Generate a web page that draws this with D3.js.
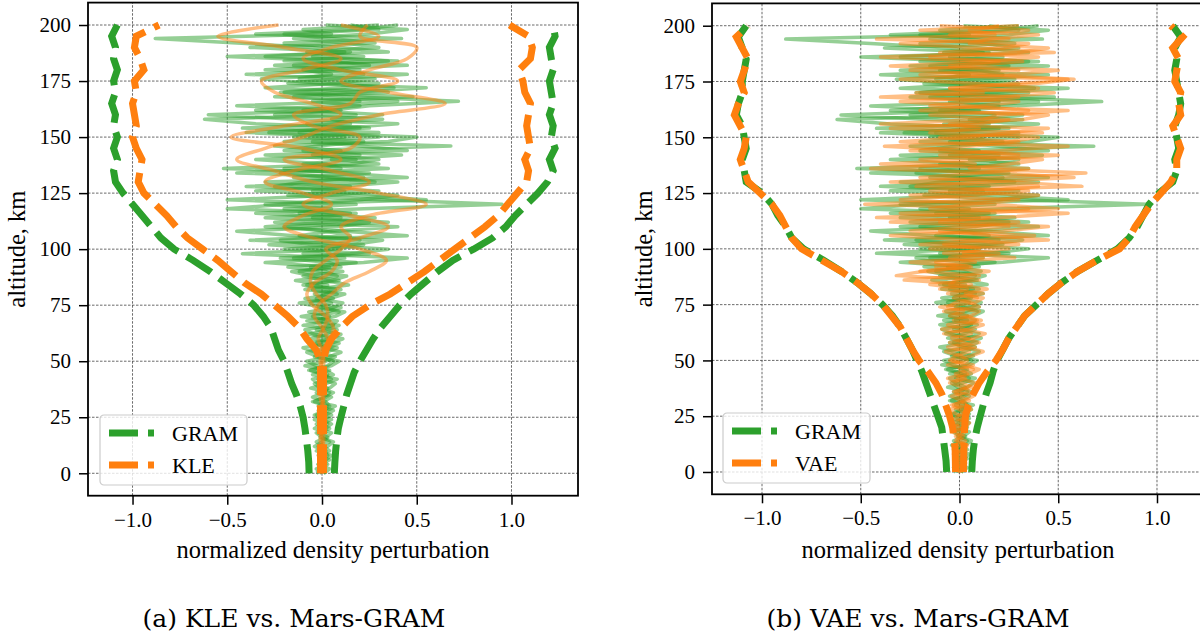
<!DOCTYPE html>
<html>
<head>
<meta charset="utf-8">
<script src="https://cdn.jsdelivr.net/npm/d3@7"></script>
<style>
  body { margin: 0; background: #fff; }
  svg { display: block; font-family: "Liberation Serif", "Times New Roman", serif; }
</style>
</head>
<body>
<div id="chart"></div>
<script>
// altitude grids (km)
var altFine = d3.range(0, 201, 2);
var altCoarse = d3.range(0, 201, 5);

var xTicks = [-1.0, -0.5, 0.0, 0.5, 1.0];
var yTicks = [0, 25, 50, 75, 100, 125, 150, 175, 200];

// Mars-GRAM sample profiles (every 2 km)
var gramSample1 = [0.02,-0.01,0.03,0.00,-0.02,0.04,0.01,-0.03,0.02,0.05,
  -0.01,0.03,-0.04,0.02,0.06,-0.02,0.01,0.05,-0.03,0.04,
  0.07,-0.02,0.03,-0.06,0.05,0.09,-0.04,0.02,0.08,-0.05,
  0.04,0.10,-0.03,0.06,-0.08,0.07,0.12,-0.02,0.05,-0.09,
  0.08,-0.05,0.14,0.02,-0.10,0.11,-0.06,0.18,-0.15,0.25,
  -0.20,0.15,0.32,-0.12,0.05,0.40,-0.25,0.10,-0.35,0.22,
  0.95,0.30,-0.18,0.12,-0.40,0.28,0.05,-0.22,0.35,-0.10,
  0.18,-0.30,0.45,0.20,-0.05,0.30,-0.28,0.10,0.40,-0.15,
  -0.60,0.05,0.25,0.72,0.15,-0.20,0.38,0.00,-0.32,0.22,
  0.10,-0.25,0.35,-0.05,0.15,-0.38,0.28,0.05,-0.20,0.30,
  0.15];
var gramSample2 = [-0.03,0.01,-0.02,0.04,-0.01,0.02,-0.04,0.00,0.03,-0.02,
  0.04,-0.03,0.01,0.05,-0.02,0.03,-0.05,0.02,0.06,-0.01,
  -0.04,0.05,0.01,-0.07,0.03,0.06,-0.02,-0.08,0.04,0.09,
  -0.06,0.02,0.08,-0.10,0.04,-0.05,0.09,0.01,-0.12,0.06,
  -0.04,0.10,-0.08,0.05,0.13,-0.12,0.04,-0.30,0.12,-0.42,
  0.10,-0.28,0.20,-0.15,-0.45,0.08,0.25,-0.30,0.15,-0.20,
  0.18,-0.50,0.05,0.30,-0.25,-0.10,0.22,-0.45,0.10,0.02,
  -0.35,0.20,-0.10,0.68,-0.20,0.12,-0.40,0.25,-0.08,0.32,
  -0.25,0.10,-0.45,0.20,-0.15,0.35,-0.30,0.08,0.28,-0.40,
  0.20,-0.15,0.40,-0.30,0.12,-0.05,-0.45,-0.88,0.05,-0.10,
  0.30];
var gramSample3 = [0.01,0.04,-0.02,0.02,0.05,-0.03,0.03,0.06,-0.01,0.02,
  -0.04,0.00,0.05,-0.03,0.03,0.07,-0.04,0.01,0.04,-0.06,
  0.02,0.08,-0.05,0.04,-0.09,0.02,0.07,-0.03,-0.10,0.05,
  0.11,-0.04,-0.09,0.05,0.08,-0.11,0.03,0.10,-0.06,0.04,
  0.12,-0.09,0.03,-0.14,0.08,0.02,-0.18,0.22,0.45,-0.10,
  0.05,0.22,-0.38,0.15,0.02,-0.20,0.35,-0.05,0.18,-0.50,
  -0.20,0.55,0.15,-0.35,0.08,0.40,-0.15,0.25,-0.52,0.15,
  0.30,-0.05,0.10,-0.25,0.35,0.50,-0.12,0.20,-0.35,-0.62,
  0.18,-0.35,0.05,0.40,-0.25,0.15,0.55,-0.18,0.08,0.45,
  -0.30,0.25,0.05,-0.50,0.35,0.10,-0.20,0.42,-0.35,0.20,
  0.40];
var gramSample4 = [0.00,-0.03,0.02,-0.01,0.03,0.01,-0.02,0.04,0.00,-0.03,
  0.02,0.05,0.00,-0.04,0.01,0.04,0.02,-0.05,0.01,0.03,
  -0.02,-0.05,0.06,0.02,-0.03,-0.08,0.04,0.10,0.01,-0.03,
  0.05,-0.07,0.03,0.09,-0.02,0.04,-0.07,0.06,0.11,-0.03,
  0.02,0.07,-0.10,0.09,-0.05,-0.16,0.10,0.04,-0.22,0.15,
  0.35,-0.05,-0.22,0.45,0.12,-0.30,0.02,0.28,-0.12,0.05,
  -0.30,0.20,0.40,-0.05,0.15,-0.30,0.45,0.10,-0.20,0.30,
  0.05,0.42,-0.20,-0.02,0.22,-0.15,0.30,-0.42,0.15,0.05,
  0.32,-0.10,0.20,-0.05,0.48,-0.22,0.10,0.30,-0.12,0.05,
  -0.10,0.45,-0.20,0.22,-0.08,0.30,0.12,-0.15,0.25,0.45,
  0.02];

// KLE sample profiles (every 5 km, smooth)
var kleSample1 = [0.00,0.00,0.01,0.00,-0.01,0.00,0.01,0.00,-0.01,0.00,
  0.01,0.00,-0.02,0.01,0.03,0.02,-0.03,-0.06,-0.05,0.02,
  0.10,0.15,0.10,0.25,0.55,0.30,-0.05,-0.25,-0.45,-0.30,
  -0.10,0.05,0.30,0.65,0.35,0.10,0.25,0.45,0.50,0.20,
  0.24];
var kleSample2 = [0.00,-0.01,0.00,0.01,0.00,-0.01,0.00,0.01,0.00,-0.01,
  0.00,0.02,0.03,0.00,-0.04,-0.02,0.05,0.12,0.25,0.34,
  0.20,-0.05,-0.20,-0.10,0.05,-0.10,-0.30,-0.15,0.10,-0.10,
  -0.48,-0.20,0.10,-0.05,-0.25,-0.32,-0.10,0.10,-0.20,-0.55,
  -0.23];
var kleSample3 = [0.00,0.01,0.00,-0.01,0.00,0.01,0.00,-0.01,0.01,0.00,
  -0.01,0.00,0.04,0.06,0.02,-0.05,-0.08,-0.04,0.05,0.08,
  0.02,0.20,0.35,0.15,-0.10,0.05,0.25,0.05,-0.20,0.15,
  0.20,-0.05,-0.15,0.15,0.20,0.40,0.10,-0.10,0.05,0.30,
  0.10];

// VAE sample profiles (every 2 km)
var vaeSample1 = [0.01,-0.02,0.03,0.00,-0.03,0.02,0.04,-0.01,0.02,-0.04,
  0.03,0.05,-0.02,0.01,0.06,-0.03,0.02,0.07,-0.02,0.04,
  0.08,-0.01,0.05,0.10,0.02,-0.04,0.06,0.12,0.03,-0.05,
  0.07,0.13,0.02,-0.06,0.09,0.04,-0.08,0.10,0.05,-0.03,
  0.12,-0.10,0.06,-0.28,0.02,0.15,-0.12,0.08,-0.05,0.20,
  -0.15,0.30,0.05,-0.35,0.22,0.45,-0.10,0.15,-0.30,0.35,
  -0.48,0.20,0.40,-0.15,0.62,0.25,-0.20,0.10,0.35,-0.40,
  0.15,0.50,-0.25,0.05,0.30,-0.10,0.42,-0.35,0.10,0.25,
  -0.15,0.35,0.05,-0.30,0.20,0.48,-0.05,0.25,0.55,-0.20,
  0.30,-0.35,0.15,0.40,-0.10,0.22,0.35,-0.42,0.18,0.05,
  0.20];
var vaeSample2 = [-0.01,0.02,-0.02,0.03,0.01,-0.03,0.00,0.03,-0.02,0.01,
  -0.03,0.01,0.04,-0.02,-0.05,0.03,0.01,-0.04,0.05,0.02,
  -0.05,0.03,-0.02,0.07,-0.06,0.04,0.01,-0.07,0.08,0.02,
  -0.04,0.06,-0.09,0.03,0.11,-0.05,0.02,-0.10,0.08,0.12,
  -0.06,0.04,-0.15,0.10,-0.32,-0.18,0.06,-0.25,0.12,-0.08,
  0.25,-0.20,0.12,0.38,-0.25,0.05,0.30,-0.42,0.10,0.50,
  0.15,-0.30,0.05,0.35,-0.22,0.12,0.58,0.20,-0.45,0.08,
  -0.20,0.30,0.05,-0.38,0.25,0.40,-0.15,0.10,-0.05,0.32,
  0.45,-0.20,0.10,0.30,-0.40,0.12,-0.05,0.38,0.58,0.15,
  -0.25,0.05,0.32,-0.15,0.48,0.10,-0.30,0.25,-0.05,0.35,
  -0.10];
var vaeSample3 = [0.02,0.00,-0.01,0.02,-0.02,0.01,0.03,-0.02,0.00,0.03,
  0.00,-0.03,0.02,0.04,0.00,-0.04,0.05,0.00,-0.03,0.06,
  0.01,-0.06,0.04,0.00,0.07,-0.05,-0.02,0.05,-0.06,0.10,
  0.03,-0.08,0.05,0.12,-0.03,0.06,0.10,-0.06,-0.02,0.09,
  0.03,0.14,-0.05,-0.02,0.10,-0.20,0.05,-0.12,0.28,0.02,
  0.10,-0.08,0.45,0.15,-0.10,0.25,-0.35,0.20,0.55,-0.15,
  0.05,0.30,-0.25,0.15,0.40,-0.35,0.20,0.64,0.05,0.25,
  0.42,-0.10,0.20,0.55,-0.30,0.05,0.25,0.45,-0.40,0.12,
  0.20,0.55,-0.15,0.05,0.30,-0.22,0.40,0.10,-0.30,0.25,
  0.50,-0.05,0.20,-0.40,0.30,0.45,0.05,0.15,0.40,-0.20,
  0.30];

// 3-sigma envelopes (every 5 km)
var gramLowerA = [-0.068,-0.07,-0.075,-0.082,-0.09,-0.10,-0.115,-0.135,-0.16,-0.18,
  -0.20,-0.23,-0.25,-0.27,-0.31,-0.36,-0.43,-0.51,-0.59,-0.68,
  -0.78,-0.85,-0.90,-0.95,-1.00,-1.05,-1.09,-1.10,-1.08,-1.10,
  -1.08,-1.10,-1.09,-1.11,-1.09,-1.10,-1.08,-1.10,-1.09,-1.11,
  -1.08];
var gramUpperA = [0.065,0.068,0.072,0.078,0.086,0.10,0.115,0.13,0.15,0.17,
  0.20,0.235,0.27,0.31,0.36,0.41,0.47,0.54,0.61,0.69,
  0.80,0.90,0.97,1.02,1.08,1.14,1.19,1.22,1.20,1.23,
  1.21,1.22,1.20,1.22,1.21,1.20,1.22,1.21,1.20,1.23,
  1.22];
var kleLower = [-0.008,-0.008,-0.008,-0.008,-0.008,-0.008,-0.008,-0.008,-0.008,-0.008,
  -0.008,-0.03,-0.08,-0.12,-0.18,-0.25,-0.32,-0.41,-0.48,-0.55,
  -0.63,-0.71,-0.77,-0.82,-0.88,-0.94,-0.97,-0.96,-0.95,-0.98,
  -1.00,-0.98,-0.99,-1.00,-0.98,-0.99,-0.94,-0.96,-0.99,-0.98,
  -0.86];
var kleUpper = [0.008,0.008,0.008,0.008,0.008,0.008,0.008,0.008,0.008,0.008,
  0.008,0.02,0.05,0.10,0.16,0.25,0.36,0.45,0.54,0.62,
  0.70,0.78,0.86,0.93,0.98,1.03,1.08,1.09,1.07,1.10,
  1.09,1.08,1.09,1.10,1.07,1.06,1.04,1.10,1.11,1.09,
  0.99];
var gramLowerB = [-0.065,-0.068,-0.075,-0.082,-0.09,-0.11,-0.13,-0.15,-0.17,-0.19,
  -0.215,-0.24,-0.27,-0.30,-0.34,-0.39,-0.45,-0.52,-0.60,-0.69,
  -0.79,-0.85,-0.88,-0.92,-0.95,-1.00,-1.08,-1.09,-1.10,-1.08,
  -1.09,-1.10,-1.13,-1.12,-1.10,-1.10,-1.09,-1.08,-1.10,-1.12,
  -1.08];
var gramUpperB = [0.062,0.065,0.07,0.078,0.09,0.105,0.12,0.135,0.155,0.17,
  0.19,0.22,0.25,0.29,0.33,0.39,0.45,0.52,0.60,0.70,
  0.80,0.86,0.90,0.93,0.96,1.01,1.08,1.10,1.09,1.11,
  1.10,1.09,1.11,1.12,1.11,1.10,1.09,1.10,1.09,1.12,
  1.08];
var vaeLower = [-0.02,-0.021,-0.022,-0.028,-0.035,-0.05,-0.07,-0.09,-0.12,-0.16,
  -0.205,-0.24,-0.27,-0.30,-0.345,-0.39,-0.45,-0.52,-0.60,-0.70,
  -0.80,-0.85,-0.88,-0.91,-0.95,-1.01,-1.07,-1.09,-1.11,-1.09,
  -1.08,-1.11,-1.14,-1.12,-1.09,-1.11,-1.09,-1.07,-1.10,-1.13,
  -1.07];
var vaeUpper = [0.02,0.021,0.022,0.024,0.026,0.03,0.045,0.07,0.10,0.14,
  0.185,0.22,0.25,0.29,0.33,0.39,0.45,0.52,0.60,0.70,
  0.81,0.86,0.89,0.93,0.97,1.02,1.07,1.10,1.10,1.12,
  1.10,1.08,1.12,1.11,1.12,1.09,1.10,1.11,1.08,1.13,
  1.07];

var green = "#2ca02c", orange = "#ff7f0e";
var dash = "29,10";

var svg = d3.select("#chart").append("svg")
    .attr("width", 1200)
    .attr("height", 636);

function drawPanel(p) {
  var x = d3.scaleLinear().domain(p.xDomain).range(p.xRange);
  var y = d3.scaleLinear().domain([-10, 210]).range(p.yRange);
  var g = svg.append("g");

  var clipId = "clip" + p.id;
  g.append("clipPath").attr("id", clipId).append("rect")
    .attr("x", p.xRange[0]).attr("y", p.yRange[1])
    .attr("width", p.xRange[1] - p.xRange[0])
    .attr("height", p.yRange[0] - p.yRange[1]);

  // grid
  g.selectAll(".vgrid").data(xTicks).enter().append("line")
    .attr("x1", d => x(d)).attr("x2", d => x(d))
    .attr("y1", p.yRange[0]).attr("y2", p.yRange[1])
    .style("stroke", "#444").style("stroke-width", 0.8)
    .style("stroke-dasharray", "2.5,1.5");
  g.selectAll(".hgrid").data(yTicks).enter().append("line")
    .attr("x1", p.xRange[0]).attr("x2", p.xRange[1])
    .attr("y1", d => y(d)).attr("y2", d => y(d))
    .style("stroke", "#444").style("stroke-width", 0.8)
    .style("stroke-dasharray", "2.5,1.5");

  var plot = g.append("g").attr("clip-path", "url(#" + clipId + ")");

  function profile(vals, alts) {
    return d3.line().x(d => x(d[0])).y(d => y(d[1]))(d3.zip(vals, alts));
  }

  // sample profiles
  p.samplesA.forEach(function (s) {
    plot.append("path").attr("d", profile(s, altFine))
      .style("fill", "none").style("stroke", green)
      .style("stroke-width", 3.5).style("stroke-opacity", 0.5)
      .style("stroke-linejoin", "round");
  });
  p.samplesB.forEach(function (s) {
    var alts = s.length == altCoarse.length ? altCoarse : altFine;
    var ln = d3.line().x(d => x(d[0])).y(d => y(d[1]));
    if (p.smoothB) ln.curve(d3.curveCatmullRom);
    plot.append("path").attr("d", ln(d3.zip(s, alts)))
      .style("fill", "none").style("stroke", orange)
      .style("stroke-width", 3.5).style("stroke-opacity", 0.5)
      .style("stroke-linejoin", "round");
  });

  // envelopes
  [[p.envA, green], [p.envB, orange]].forEach(function (e) {
    e[0].forEach(function (s) {
      plot.append("path").attr("d", profile(s, altCoarse))
        .style("fill", "none").style("stroke", e[1])
        .style("stroke-width", 7).style("stroke-dasharray", dash);
    });
  });

  // axes
  var xAxis = g.append("g")
    .attr("transform", `translate(0,${p.yRange[0]})`)
    .call(d3.axisBottom(x).tickValues(xTicks).tickFormat(d3.format(".1f"))
      .tickSize(9).tickPadding(7).tickSizeOuter(0));
  var yAxis = g.append("g")
    .attr("transform", `translate(${p.xRange[0]},0)`)
    .call(d3.axisLeft(y).tickValues(yTicks).tickSize(9).tickPadding(8).tickSizeOuter(0));
  [xAxis, yAxis].forEach(function (a) {
    a.select(".domain").remove();
    a.selectAll(".tick line").style("stroke", "#000").style("stroke-width", 1.5);
    a.selectAll(".tick text").style("font-family", "Liberation Serif")
      .style("font-size", "21px").style("fill", "#000");
  });

  g.append("rect")
    .attr("x", p.xRange[0]).attr("y", p.yRange[1])
    .attr("width", p.xRange[1] - p.xRange[0])
    .attr("height", p.yRange[0] - p.yRange[1])
    .style("fill", "none").style("stroke", "#000").style("stroke-width", 1.8);

  // labels
  g.append("text")
    .attr("x", (p.xRange[0] + p.xRange[1]) / 2).attr("y", 558)
    .attr("text-anchor", "middle").style("font-size", "24.5px")
    .text("normalized density perturbation");
  g.append("text")
    .attr("transform", `translate(${p.yLabelX},${(p.yRange[0] + p.yRange[1]) / 2}) rotate(-90)`)
    .attr("text-anchor", "middle").style("font-size", "24.5px")
    .text("altitude, km");

  // legend
  var lg = g.append("g").attr("transform", `translate(${p.legend[0]},${p.legend[1]})`);
  lg.append("rect").attr("width", 147).attr("height", 70).attr("rx", 4)
    .style("fill", "#fff").style("fill-opacity", 0.8)
    .style("stroke", "#ccc").style("stroke-width", 1.2);
  [["GRAM", green], [p.nameB, orange]].forEach(function (d, i) {
    lg.append("line").attr("x1", 9).attr("x2", 54)
      .attr("y1", 18 + i * 32).attr("y2", 18 + i * 32)
      .style("stroke", d[1]).style("stroke-width", 7).style("stroke-dasharray", dash);
    lg.append("text").attr("x", 72).attr("y", 18 + i * 32).attr("dy", "0.35em")
      .style("font-size", "22px").text(d[0]);
  });

  svg.append("text")
    .attr("x", p.captionX).attr("y", 627)
    .attr("text-anchor", "middle")
    .style("font-family", "DejaVu Serif").style("font-size", "25px")
    .text(p.caption);
}

drawPanel({
  id: "a",
  xDomain: [-1.235, 1.351], xRange: [88, 578], yRange: [495.7, 2.6],
  samplesA: [gramSample1, gramSample2, gramSample3, gramSample4],
  samplesB: [kleSample1, kleSample2, kleSample3], smoothB: true,
  envA: [gramLowerA, gramUpperA], envB: [kleLower, kleUpper],
  nameB: "KLE", legend: [100, 415], yLabelX: 25,
  caption: "(a) KLE vs. Mars-GRAM", captionX: 294
});

drawPanel({
  id: "b",
  xDomain: [-1.2532, 1.238], xRange: [712, 1204], yRange: [494.3, 3.4],
  samplesA: [gramSample1, gramSample2, gramSample3, gramSample4],
  samplesB: [vaeSample1, vaeSample2, vaeSample3], smoothB: false,
  envA: [gramLowerB, gramUpperB], envB: [vaeLower, vaeUpper],
  nameB: "VAE", legend: [723, 413], yLabelX: 652,
  caption: "(b) VAE vs. Mars-GRAM", captionX: 918
});
</script>
</body>
</html>
